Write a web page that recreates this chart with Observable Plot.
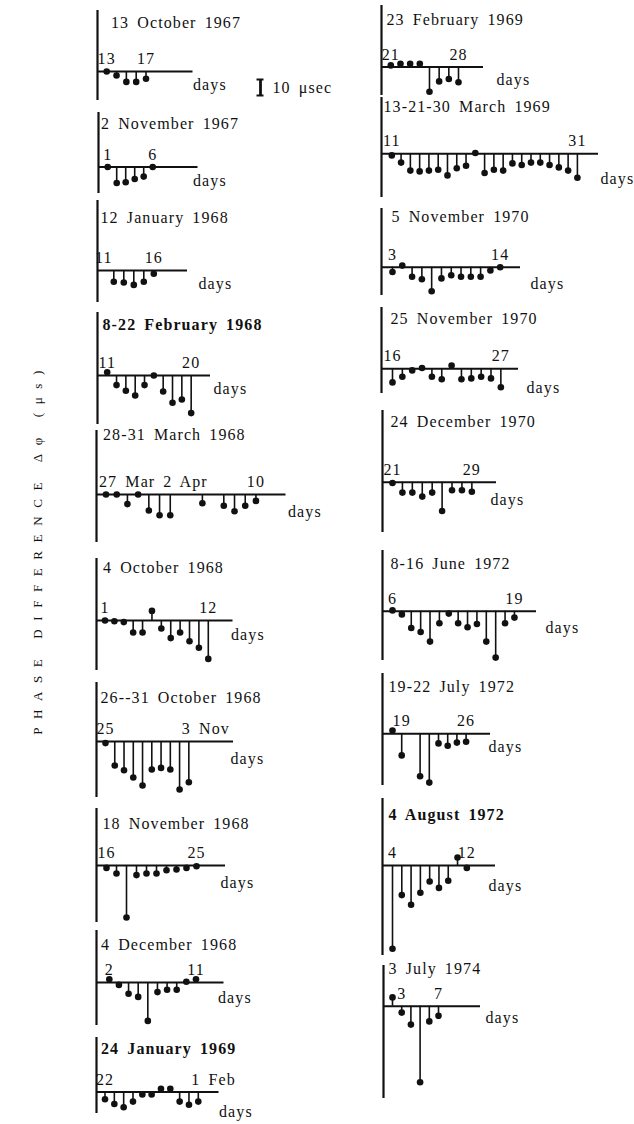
<!DOCTYPE html>
<html>
<head>
<meta charset="utf-8">
<script src="https://cdn.jsdelivr.net/npm/d3@7"></script>
<script src="https://cdn.jsdelivr.net/npm/@observablehq/plot@0.6"></script>
<style>
  html, body { margin: 0; padding: 0; background: #fff; }
  #chart { position: relative; width: 634px; height: 1124px; overflow: hidden; background: #fff; }
  #chart svg { position: absolute; overflow: visible; }
</style>
</head>
<body>
<div id="chart"></div>
<script>
// ---------------- DATA ----------------
const yAxisLabel = "PHASE DIFFERENCE Δφ (μs)";
const scaleLabel = "10 μsec";
const scaleValue = [0, 10];
const unitLabel = "days";

const panelTitles = [
  "13 October 1967", "2 November 1967", "12 January 1968", "8-22 February 1968",
  "28-31 March 1968", "4 October 1968", "26--31 October 1968", "18 November 1968",
  "4 December 1968", "24 January 1969",
  "23 February 1969", "13-21-30 March 1969", "5 November 1970", "25 November 1970",
  "24 December 1970", "8-16 June 1972", "19-22 July 1972", "4 August 1972", "3 July 1974"
];

// phase difference (μs) per day
const oct67Days = [13, 14, 15, 16, 17];
const oct67Phase = [0, -2.5, -6.5, -6.5, -4.5];
const oct67Ticks = [[13, "13"], [17, "17"]];

const nov67Days = [1, 2, 3, 4, 5, 6];
const nov67Phase = [0, -10, -9.5, -7.5, -6, 0];
const nov67Ticks = [[1, "1"], [6, "6"]];

const jan68Days = [12, 13, 14, 15, 16];
const jan68Phase = [-7, -7.5, -9, -7, -2];
const jan68Ticks = [[11, "11"], [16, "16"]];

const feb68Days = [11, 12, 13, 14, 15, 16, 17, 18, 19, 20];
const feb68Phase = [2, -6, -9.5, -12.5, -6, 0, -10, -17, -15, -23.5];
const feb68Ticks = [[11, "11"], [20, "20"]];

// day numbers run on past 31 March (32 = 1 Apr)
const mar68Days = [27, 28, 29, 30, 31, 32, 33, 36, 38, 39, 40, 41];
const mar68Phase = [0, 0, -6, 0, -10, -13, -13, -5.5, -7, -10.5, -7, -4];
const mar68Ticks = [[27, "27 Mar"], [33, "2 Apr"], [41, "10"]];

const oct68aDays = [1, 2, 3, 4, 5, 6, 7, 8, 9, 10, 11, 12];
const oct68aPhase = [0, -0.5, -1, -7.5, -7.5, 6, -5, -11, -7.5, -13, -17, -24];
const oct68aTicks = [[1, "1"], [12, "12"]];

// 32 = 1 Nov
const oct68bDays = [25, 26, 27, 28, 29, 30, 31, 32, 33, 34];
const oct68bPhase = [-1, -15, -18, -22.5, -27.5, -17.5, -16.5, -17.5, -30, -25.5];
const oct68bTicks = [[25, "25"], [34, "3 Nov"]];

const nov68Days = [16, 17, 18, 19, 20, 21, 22, 23, 24, 25];
const nov68Phase = [-1.5, -5, -32.5, -6, -5, -5, -3, -2.5, -1.5, -0.5];
const nov68Ticks = [[16, "16"], [25, "25"]];

const dec68Days = [2, 3, 4, 5, 6, 7, 8, 9, 10, 11];
const dec68Phase = [2, -1.5, -7, -9, -24, -6, -4.5, -4.5, 0.5, 2];
const dec68Ticks = [[2, "2"], [11, "11"]];

// 32 = 1 Feb
const jan69Days = [22, 23, 24, 25, 26, 27, 28, 29, 30, 31, 32];
const jan69Phase = [-4.5, -7.5, -9.5, -6, -1.5, -1.5, 2, 2, -6, -8, -6];
const jan69Ticks = [[22, "22"], [32, "1 Feb"]];

const feb69Days = [21, 22, 23, 24, 25, 26, 27, 28];
const feb69Phase = [1, 2, 2, 2, -15.5, -9, -7.5, -9.5];
const feb69Ticks = [[21, "21"], [28, "28"]];

const mar69Days = [11, 12, 13, 14, 15, 16, 17, 18, 19, 20, 21, 22, 23, 24, 25, 26, 27, 28, 29, 30, 31];
const mar69Phase = [-1, -5.5, -10.5, -11, -10.5, -10, -13.5, -9, -7.5, 0.5, -12, -10, -10.5, -6, -7, -5.5, -5.5, -7, -8.5, -10.5, -15];
const mar69Ticks = [[11, "11"], [31, "31"]];

const nov70aDays = [3, 4, 5, 6, 7, 8, 9, 10, 11, 12, 13, 14];
const nov70aPhase = [-3, 1, -6, -7.5, -15, -7, -5, -6, -6, -6, -2, 0];
const nov70aTicks = [[3, "3"], [14, "14"]];

const nov70bDays = [16, 17, 18, 19, 20, 21, 22, 23, 24, 25, 26, 27];
const nov70bPhase = [-8.5, -5, -1, 0.5, -5, -6.5, 2, -6.5, -6, -5, -6, -11.5];
const nov70bTicks = [[16, "16"], [27, "27"]];

const dec70Days = [21, 22, 23, 24, 25, 26, 27, 28, 29];
const dec70Phase = [-0.5, -6.5, -6.5, -9, -6.5, -18, -5, -5, -6];
const dec70Ticks = [[21, "21"], [29, "29"]];

const jun72Days = [6, 7, 8, 9, 10, 11, 12, 13, 14, 15, 16, 17, 18, 19];
const jun72Phase = [0.5, -2, -10.5, -13, -19, -7.5, -1.5, -7.5, -10, -8, -19, -29, -7.5, -4];
const jun72Ticks = [[6, "6"], [19, "19"]];

const jul72Days = [18, 19, 21, 22, 23, 24, 25, 26];
const jul72Phase = [2, -13.5, -26.5, -30.5, -6, -7.5, -5.5, -5];
const jul72Ticks = [[19, "19"], [26, "26"]];

const aug72Days = [4, 5, 6, 7, 8, 9, 10, 11, 12];
const aug72Phase = [-52, -18.5, -24.5, -17, -10, -14, -9.5, 5, -1.5];
const aug72Ticks = [[4, "4"], [12, "12"]];

const jul74Days = [2, 3, 4, 5, 6, 7];
const jul74Phase = [5.5, -4, -11.5, -47.5, -9.5, -6];
const jul74Ticks = [[3, "3"], [7, "7"]];

// ---------------- LAYOUT (pixels) ----------------
const PX_PER_US = 1.6;
const panels = [
  {t: 0, days: oct67Days, phase: oct67Phase, ticks: oct67Ticks, lx: 96.5, top: 10, bottom: 100, by: 71, refX: 105.7, ppd: 9.83, bend: 192, tx: 110, ty: 27, wx: 192, wy: 89},
  {t: 1, days: nov67Days, phase: nov67Phase, ticks: nov67Ticks, lx: 97.5, top: 112, bottom: 193, by: 166.5, refX: 106.7, ppd: 9.0, bend: 197, tx: 100, ty: 128, wx: 192, wy: 185},
  {t: 2, days: jan68Days, phase: jan68Phase, ticks: jan68Ticks, lx: 97, top: 200, bottom: 302, by: 270, refX: 113.3, ppd: 10.0, bend: 187, tx: 100, ty: 222, wx: 198, wy: 288},
  {t: 3, days: feb68Days, phase: feb68Phase, ticks: feb68Ticks, lx: 97, top: 312, bottom: 424, by: 375, refX: 106.7, ppd: 9.33, bend: 210, tx: 102, ty: 329, wx: 213, wy: 393, bold: true},
  {t: 4, days: mar68Days, phase: mar68Phase, ticks: mar68Ticks, lx: 95.5, top: 430, bottom: 542, by: 494, refX: 105, ppd: 10.71, bend: 285, tx: 102, ty: 439, wx: 287, wy: 516},
  {t: 5, days: oct68aDays, phase: oct68aPhase, ticks: oct68aTicks, lx: 95.5, top: 558, bottom: 670, by: 620, refX: 104, ppd: 9.39, bend: 232, tx: 102, ty: 572, wx: 230, wy: 639},
  {t: 6, days: oct68bDays, phase: oct68bPhase, ticks: oct68bTicks, lx: 96, top: 682, bottom: 797, by: 741, refX: 105, ppd: 9.26, bend: 233, tx: 100, ty: 702, wx: 230, wy: 763},
  {t: 7, days: nov68Days, phase: nov68Phase, ticks: nov68Ticks, lx: 96, top: 808, bottom: 922, by: 865, refX: 106, ppd: 10.0, bend: 225, tx: 102, ty: 828, wx: 220, wy: 887},
  {t: 8, days: dec68Days, phase: dec68Phase, ticks: dec68Ticks, lx: 95.5, top: 930, bottom: 1025, by: 982, refX: 108.3, ppd: 9.63, bend: 223, tx: 100, ty: 949, wx: 217, wy: 1002},
  {t: 9, days: jan69Days, phase: jan69Phase, ticks: jan69Ticks, lx: 95.5, top: 1037, bottom: 1113, by: 1091.5, refX: 104, ppd: 9.33, bend: 218, tx: 100, ty: 1053, wx: 218, wy: 1116, bold: true},
  {t: 10, days: feb69Days, phase: feb69Phase, ticks: feb69Ticks, lx: 381, top: 5, bottom: 95, by: 66.5, refX: 390.3, ppd: 9.67, bend: 483, tx: 386, ty: 24, wx: 496, wy: 84},
  {t: 11, days: mar69Days, phase: mar69Phase, ticks: mar69Ticks, lx: 381, top: 97, bottom: 197, by: 153.3, refX: 391.3, ppd: 9.28, bend: 598, tx: 383, ty: 111, wx: 600, wy: 183},
  {t: 12, days: nov70aDays, phase: nov70aPhase, ticks: nov70aTicks, lx: 381, top: 208, bottom: 295, by: 266.7, refX: 392, ppd: 9.79, bend: 520, tx: 391, ty: 221, wx: 530, wy: 288},
  {t: 13, days: nov70bDays, phase: nov70bPhase, ticks: nov70bTicks, lx: 381, top: 307, bottom: 393, by: 368.3, refX: 392, ppd: 9.85, bend: 518, tx: 390, ty: 323, wx: 526, wy: 392},
  {t: 14, days: dec70Days, phase: dec70Phase, ticks: dec70Ticks, lx: 382, top: 410, bottom: 532, by: 481.7, refX: 392, ppd: 9.92, bend: 496, tx: 390, ty: 426, wx: 490, wy: 504},
  {t: 15, days: jun72Days, phase: jun72Phase, ticks: jun72Ticks, lx: 382, top: 550, bottom: 660, by: 610.7, refX: 392, ppd: 9.38, bend: 536, tx: 390, ty: 568, wx: 545, wy: 632},
  {t: 16, days: jul72Days, phase: jul72Phase, ticks: jul72Ticks, lx: 382, top: 673, bottom: 785, by: 733.3, refX: 392, ppd: 9.2, bend: 490, tx: 388, ty: 691, wx: 488, wy: 751},
  {t: 17, days: aug72Days, phase: aug72Phase, ticks: aug72Ticks, lx: 382, top: 798, bottom: 955, by: 865, refX: 392, ppd: 9.29, bend: 495, tx: 388, ty: 819, wx: 488, wy: 890, bold: true},
  {t: 18, days: jul74Days, phase: jul74Phase, ticks: jul74Ticks, lx: 383, top: 965, bottom: 1098, by: 1005.7, refX: 392, ppd: 9.2, bend: 480, tx: 388, ty: 973, wx: 485, wy: 1022}
];

const INK = "#111";
const FONT = "'Liberation Serif', 'DejaVu Serif', serif";
const chart = document.getElementById("chart");

function place(svg, left, top) {
  svg.style.left = left + "px";
  svg.style.top = top + "px";
  chart.appendChild(svg);
}

function baseStyle() {
  return {background: "transparent", fontFamily: FONT, fontSize: "16px", letterSpacing: "1.1px", wordSpacing: "3px", overflow: "visible", color: INK};
}

for (const p of panels) {
  const left = p.lx - 2;
  const top = p.top;
  const W = 255;
  const H = p.bottom - p.top;
  const d0 = p.days[0];
  const dLine = d0 - (p.refX - p.lx) / p.ppd;
  const dEnd = d0 + (p.bend - p.refX) / p.ppd;
  const rows = p.days.map((d, i) => ({day: d, phase: p.phase[i]}));
  const yb = p.by - top;
  const svg = Plot.plot({
    width: W,
    height: H,
    margin: 0,
    x: {type: "linear", domain: [dLine, dEnd], range: [p.lx - left, p.bend - left], axis: null},
    y: {type: "linear", domain: [0, -10], range: [yb, yb + 10 * PX_PER_US], axis: null},
    style: baseStyle(),
    marks: [
      Plot.ruleX([dLine], {stroke: INK, strokeWidth: 2.2}),
      Plot.ruleY([0], {x1: dLine, x2: dEnd, stroke: INK, strokeWidth: 2}),
      Plot.ruleX(rows, {x: "day", y1: 0, y2: "phase", stroke: INK, strokeWidth: 1.6}),
      Plot.dot(rows, {x: "day", y: "phase", r: 3.3, fill: INK, stroke: "none"}),
      Plot.text(p.ticks.filter(d => !/ /.test(d[1])), {x: d => d[0], y: 0, text: d => d[1], dy: -7.5, lineAnchor: "bottom", textAnchor: "middle", fill: INK}),
      Plot.text(p.ticks.filter(d => / /.test(d[1])), {x: d => d[0], y: 0, text: d => d[1], dy: -7.5, dx: -7, lineAnchor: "bottom", textAnchor: "start", fill: INK}),
      Plot.text([unitLabel], {x: dEnd, y: 0, dx: p.wx - p.bend, dy: p.wy - p.by, lineAnchor: "bottom", textAnchor: "start", fill: INK}),
      Plot.text([panelTitles[p.t]], {frameAnchor: "top-left", dx: p.tx - left, dy: p.ty - top, lineAnchor: "bottom", textAnchor: "start", fill: INK, fontWeight: p.bold ? "bold" : "normal"})
    ]
  });
  place(svg, left, top);
}

// scale bar: 10 μs
{
  const svg = Plot.plot({
    width: 100, height: 24, margin: 0,
    x: {type: "linear", domain: [-1, 1], range: [5, 15], axis: null},
    y: {type: "linear", domain: [0, 10], range: [20, 20 - 10 * PX_PER_US], axis: null},
    style: baseStyle(),
    marks: [
      Plot.ruleX([0], {y1: scaleValue[0], y2: scaleValue[1], stroke: INK, strokeWidth: 2.8}),
      Plot.ruleY(scaleValue, {x1: -0.7, x2: 0.7, stroke: INK, strokeWidth: 2}),
      Plot.text([scaleLabel], {x: 1, y: 5, dx: 7, lineAnchor: "middle", textAnchor: "start", fill: INK})
    ]
  });
  place(svg, 250, 75);
}

// rotated y-axis label
{
  const svg = Plot.plot({
    width: 30, height: 420, margin: 0,
    style: {background: "transparent", fontFamily: FONT, fontSize: "13px", letterSpacing: "8.6px", overflow: "visible", color: INK},
    marks: [
      Plot.text([yAxisLabel], {frameAnchor: "middle", rotate: -90, fill: INK, lineAnchor: "middle"})
    ]
  });
  place(svg, 22, 338);
}
</script>
</body>
</html>
